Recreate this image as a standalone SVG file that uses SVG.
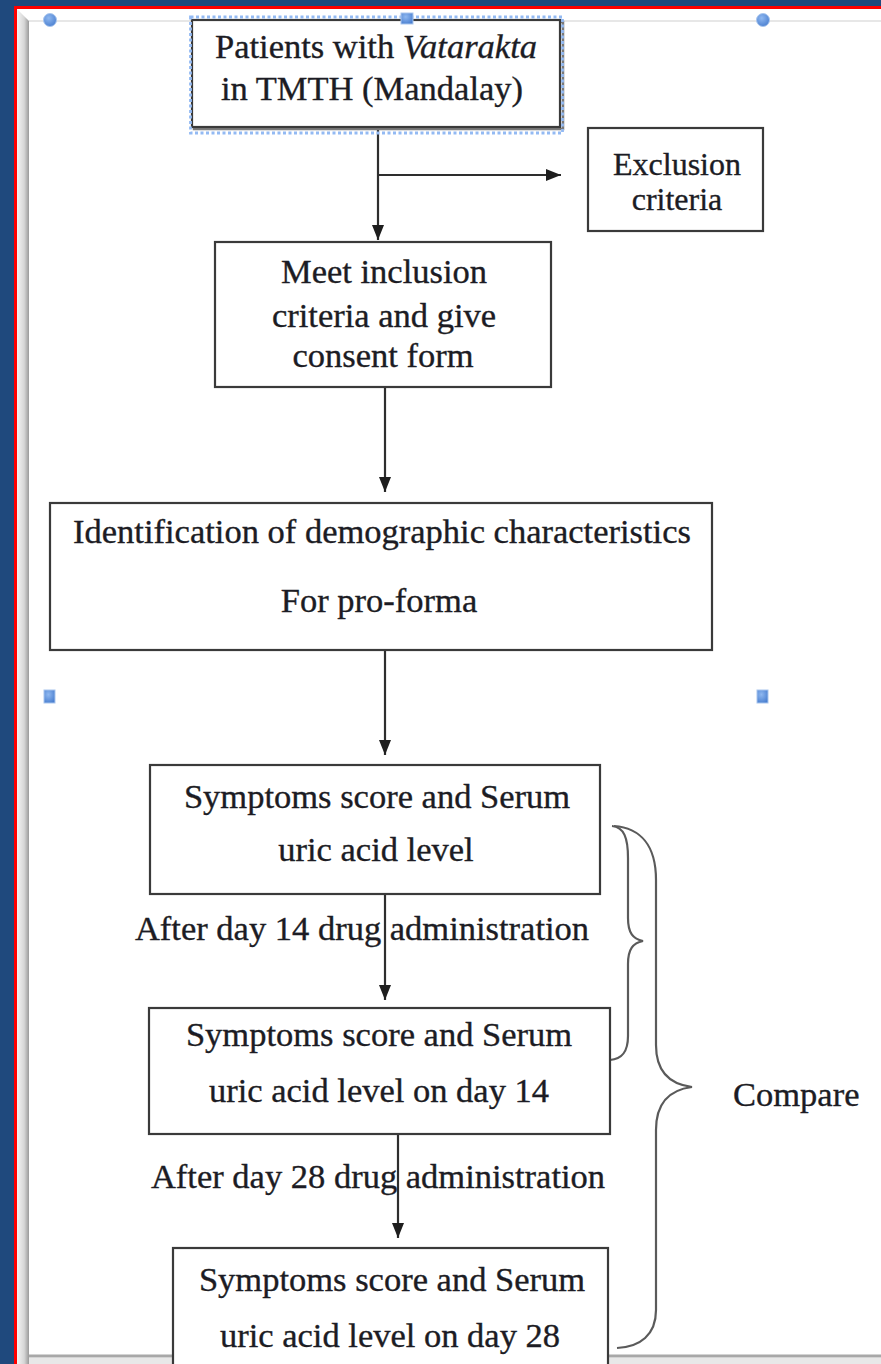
<svg xmlns="http://www.w3.org/2000/svg" width="881" height="1364" viewBox="0 0 881 1364">
  <defs>
    <linearGradient id="bevel" x1="0" y1="0" x2="1" y2="0">
      <stop offset="0" stop-color="#f4f4f4"/>
      <stop offset="0.6" stop-color="#d6d6d6"/>
      <stop offset="1" stop-color="#9a9a9a"/>
    </linearGradient>
    <radialGradient id="hg" cx="0.4" cy="0.35" r="0.7">
      <stop offset="0" stop-color="#8fb8f0"/>
      <stop offset="1" stop-color="#4a7fd0"/>
    </radialGradient>
    <marker id="arr" viewBox="0 0 15 12" refX="15" refY="6" markerWidth="15" markerHeight="12" markerUnits="userSpaceOnUse" orient="auto">
      <path d="M0,0 L15,6 L0,12 Z" fill="#1e1e1e"/>
    </marker>
    <style>
      .box { fill: #ffffff; stroke: #3a3a3a; stroke-width: 2.2; }
      .t { font-family: "Liberation Serif", "Times New Roman", serif; font-size: 34.5px; fill: #1c1c24; text-anchor: middle; stroke: #1c1c24; stroke-width: 0.35; }
      .conn { stroke: #2e2e2e; stroke-width: 2.2; fill: none; }
      .brace { stroke: #5a5a5a; stroke-width: 2.2; fill: none; }
      .handle { fill: url(#hg); stroke: #a9c6ee; stroke-width: 1; }
    </style>
  </defs>

  <!-- page frame -->
  <rect x="0" y="0" width="881" height="1364" fill="#1f497d"/>
  <rect x="14" y="6" width="867" height="1358" fill="#ff0000"/>
  <rect x="17" y="9" width="864" height="1355" fill="#ffffff"/>
  <rect x="17" y="9" width="12" height="1355" fill="url(#bevel)"/>
  <polygon points="17,9 29,21 29,9" fill="#ffffff"/>
  <line x1="29" y1="21" x2="881" y2="21" stroke="#cfcfcf" stroke-width="1.2"/>
  <line x1="29" y1="1356" x2="881" y2="1356" stroke="#a8a8a8" stroke-width="3"/>
  <rect x="29" y="1358" width="852" height="6" fill="#e8e8e8"/>

  <!-- connectors -->
  <g id="connectors">
    <line class="conn" x1="378" y1="128" x2="378" y2="240" marker-end="url(#arr)"/>
    <line class="conn" x1="378" y1="175" x2="561" y2="175" marker-end="url(#arr)"/>
    <line class="conn" x1="385" y1="387" x2="385" y2="492" marker-end="url(#arr)"/>
    <line class="conn" x1="385" y1="650" x2="385" y2="755" marker-end="url(#arr)"/>
    <line class="conn" x1="385" y1="894" x2="385" y2="1000" marker-end="url(#arr)"/>
    <line class="conn" x1="398" y1="1134" x2="398" y2="1238" marker-end="url(#arr)"/>
    <path class="brace" d="M612,826 C624,827 628,838 628,858 L628,918 C628,933 633,939 643,941 C633,943 628,949 628,964 L628,1036 C628,1052 622,1059 610,1060"/>
    <path class="brace" d="M614,826 C640,828 656,845 656,880 L656,1045 C656,1070 668,1084 692,1087 C668,1090 656,1104 656,1130 L656,1310 C656,1335 640,1347 617,1348"/>
  </g>

  <g id="patients">
    <rect x="194" y="22" width="369" height="107" fill="none" stroke="#7a7a7a" stroke-width="2.5"/>
    <rect class="box" x="192" y="20" width="368" height="107"/>
    <rect x="190.5" y="17" width="372" height="116" fill="none" stroke="#93baf3" stroke-width="2.8" stroke-dasharray="3 2.5"/>
    <text class="t" x="376" y="58">Patients with <tspan font-style="italic">Vatarakta</tspan></text>
    <text class="t" x="372" y="100">in TMTH (Mandalay)</text>
  </g>

  <g id="exclusion">
    <rect class="box" x="588" y="128" width="175" height="103"/>
    <text class="t" x="677" y="175" style="font-size:32px">Exclusion</text>
    <text class="t" x="677" y="210" style="font-size:32px">criteria</text>
  </g>

  <g id="inclusion">
    <rect class="box" x="215" y="242" width="336" height="145"/>
    <text class="t" x="384" y="283">Meet inclusion</text>
    <text class="t" x="384" y="327">criteria and give</text>
    <text class="t" x="383" y="367">consent form</text>
  </g>

  <g id="demographic">
    <rect class="box" x="50" y="503" width="662" height="147"/>
    <text class="t" x="382" y="543">Identification of demographic characteristics</text>
    <text class="t" x="379" y="612">For pro-forma</text>
  </g>

  <g id="baseline">
    <rect class="box" x="150" y="765" width="450" height="129"/>
    <text class="t" x="377" y="808">Symptoms score and Serum</text>
    <text class="t" x="376" y="861">uric acid level</text>
  </g>

  <g id="label14">
    <text class="t" x="362" y="940">After day 14 drug administration</text>
  </g>

  <g id="day14">
    <rect class="box" x="149" y="1008" width="461" height="126"/>
    <text class="t" x="379" y="1046">Symptoms score and Serum</text>
    <text class="t" x="379" y="1102">uric acid level on day 14</text>
  </g>

  <g id="label28">
    <text class="t" x="378" y="1188">After day 28 drug administration</text>
  </g>

  <g id="day28">
    <rect class="box" x="173" y="1248" width="435" height="140"/>
    <text class="t" x="392" y="1291">Symptoms score and Serum</text>
    <text class="t" x="390" y="1347">uric acid level on day 28</text>
  </g>

  <g id="compare">
    <text class="t" x="733" y="1106" style="text-anchor:start">Compare</text>
  </g>

  <!-- selection handles -->
  <g id="handles">
    <circle class="handle" cx="50" cy="20" r="6.5"/>
    <circle class="handle" cx="763" cy="20" r="6.5"/>
    <rect class="handle" x="401" y="13" width="12" height="11"/>
    <rect class="handle" x="44" y="690" width="11" height="13"/>
    <rect class="handle" x="757" y="690" width="11" height="13"/>
  </g>
</svg>
